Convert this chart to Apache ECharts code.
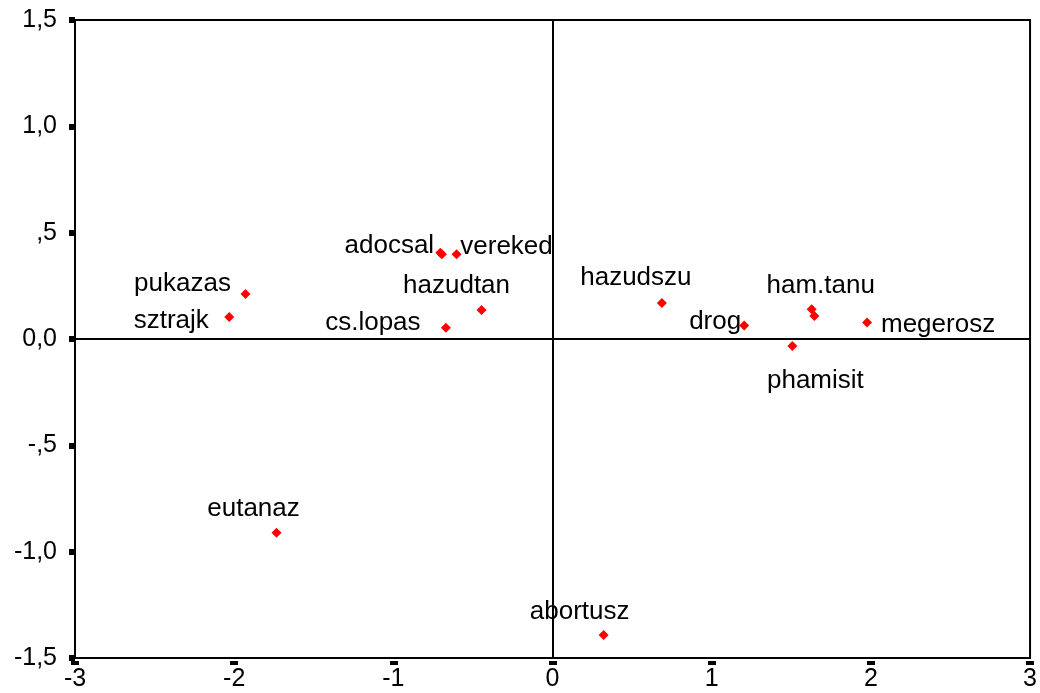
<!DOCTYPE html>
<html>
<head>
<meta charset="utf-8">
<style>
  html, body { margin: 0; padding: 0; background: #fff; }
  #chart { width: 1040px; height: 693px; }
</style>
<script src="https://cdn.jsdelivr.net/npm/echarts@6/dist/echarts.min.js"></script>
</head>
<body>
<div id="chart"></div>
<script>
// Object points on the two extracted dimensions (dimension 1 horizontal, dimension 2 vertical).
// Empty names are points whose labels are hidden behind a neighbour.
const names = ['pukazas', 'sztrajk', 'adocsal', '', 'vereked', 'hazudtan', 'cs.lopas',
               'hazudszu', 'drog', 'ham.tanu', '', 'megerosz', 'phamisit', 'eutanaz', 'abortusz'];
const dim1 = [-1.929, -2.031, -0.705, -0.695, -0.603, -0.446, -0.670,
              0.687, 1.204, 1.628, 1.645, 1.976, 1.507, -1.734, 0.321];
const dim2 = [0.212, 0.103, 0.405, 0.398, 0.398, 0.136, 0.053,
              0.169, 0.064, 0.140, 0.108, 0.078, -0.033, -0.911, -1.392];

const xTickLabels = ['-3', '-2', '-1', '0', '1', '2', '3'];
const yTickLabels = ['-1,5', '-1,0', '-,5', '0,0', ',5', '1,0', '1,5'];

// Where each point's name sits relative to its marker (pixels).
const labelOffsets = {
  'pukazas': [-63, -10], 'sztrajk': [-58, 4], 'adocsal': [-51, -7], 'vereked': [50, -8],
  'hazudtan': [-25, -24], 'cs.lopas': [-73, -5], 'hazudszu': [-26, -25], 'drog': [-29, -4],
  'ham.tanu': [9, -23], 'megerosz': [71, 2], 'phamisit': [23, 35], 'eutanaz': [-23, -24],
  'abortusz': [-24, -23]
};

const X_MIN = -3, X_MAX = 3, X_STEP = 1;
const Y_MIN = -1.5, Y_MAX = 1.5, Y_STEP = 0.5;

const FONT = '"Liberation Sans", Arial, sans-serif';

const points = names.map((n, i) => {
  const item = { name: n, value: [dim1[i], dim2[i]] };
  if (n) {
    item.label = {
      show: true, offset: labelOffsets[n] || [0, -20],
      color: '#000', textBorderWidth: 0, opacity: 1
    };
  }
  return item;
});

const chart = echarts.init(document.getElementById('chart'), null, { renderer: 'canvas' });

chart.setOption({
  animation: false,
  backgroundColor: '#ffffff',
  grid: {
    left: 75, right: 8, top: 20, bottom: 35,
    show: true, borderColor: '#000', borderWidth: 2, backgroundColor: 'transparent'
  },
  xAxis: {
    type: 'value', min: X_MIN, max: X_MAX, interval: X_STEP,
    offset: 3,
    splitLine: { show: false },
    axisLine: { show: true, onZero: false, lineStyle: { color: 'rgba(0,0,0,0)' } },
    axisTick: { show: true, inside: false, length: 4, lineStyle: { color: '#000', width: 8 } },
    axisLabel: {
      color: '#000', fontFamily: FONT, fontSize: 25, margin: 6,
      formatter: v => xTickLabels[Math.round((v - X_MIN) / X_STEP)]
    }
  },
  yAxis: {
    type: 'value', min: Y_MIN, max: Y_MAX, interval: Y_STEP,
    splitLine: { show: false },
    axisLine: { show: true, onZero: false, lineStyle: { color: 'rgba(0,0,0,0)' } },
    axisTick: { show: true, inside: false, length: 6, lineStyle: { color: '#000', width: 6 } },
    axisLabel: {
      color: '#000', fontFamily: FONT, fontSize: 25, margin: 18,
      formatter: v => yTickLabels[Math.round((v - Y_MIN) / Y_STEP)]
    }
  },
  series: [{
    type: 'scatter',
    data: points,
    symbol: 'diamond',
    symbolSize: [10, 10],
    itemStyle: { color: '#ff0000', opacity: 1 },
    label: {
      show: false, position: 'inside', color: '#000',
      fontFamily: FONT, fontSize: 26,
      formatter: p => p.name
    },
    emphasis: { disabled: true },
    markLine: {
      silent: true,
      symbol: 'none',
      label: { show: false },
      lineStyle: { color: '#000', width: 2, type: 'solid', opacity: 1 },
      data: [{ xAxis: 0 }, { yAxis: 0 }]
    }
  }]
});
</script>
</body>
</html>
